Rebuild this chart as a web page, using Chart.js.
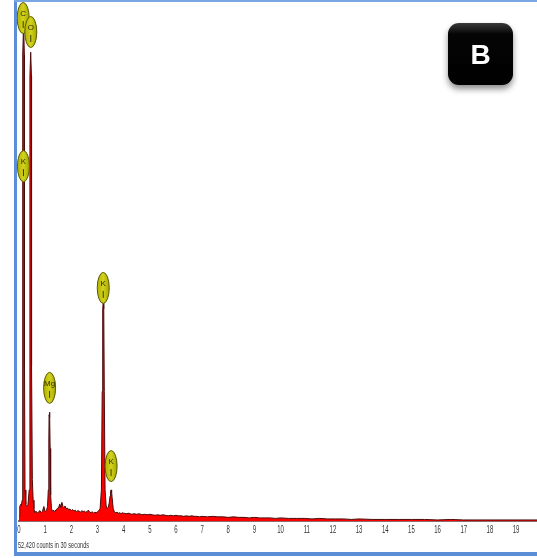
<!DOCTYPE html>
<html lang="en">
<head>
  <meta charset="UTF-8">
  <title>EDS spectrum B</title>
  <script src="https://cdn.jsdelivr.net/npm/chart.js"></script>
  <style>
    html, body { margin: 0; padding: 0; background: #fff; }
    #wrap { width: 537px; height: 558px; position: relative; }
  </style>
</head>
<body>
  <div id="wrap"><canvas id="eds" width="537" height="558"></canvas></div>

  <script>
    // spectrum (keV, counts on a 0-1000 relative scale)
    const energy = [
      0.00, 0.03, 0.06, 0.09, 0.12, 0.14, 0.145, 0.175, 0.205, 0.21, 0.23, 0.26, 0.30, 0.34,
      0.39, 0.415, 0.42, 0.447, 0.475, 0.48, 0.51, 0.54, 0.57, 0.60, 0.65, 0.70, 0.75,
      0.80, 0.85, 0.90, 0.95, 1.00, 1.05, 1.09, 1.12, 1.14, 1.15, 1.165, 1.18, 1.19, 1.21,
      1.24, 1.28, 1.32, 1.37, 1.42, 1.47, 1.52, 1.56, 1.60, 1.64, 1.68, 1.72, 1.76, 1.80,
      1.85, 1.90, 1.95, 2.00, 2.05, 2.10, 2.15, 2.20, 2.25, 2.30, 2.35, 2.40, 2.45, 2.50,
      2.55, 2.60, 2.65, 2.70, 2.75, 2.80, 2.85, 2.90, 2.95, 3.00, 3.05, 3.10, 3.15, 3.18,
      3.20, 3.22, 3.24, 3.26, 3.29, 3.33, 3.37, 3.41, 3.45, 3.48, 3.50, 3.52, 3.54, 3.56,
      3.60, 3.65, 3.70, 3.75, 3.80, 3.85, 3.90, 3.95, 4.00, 4.10, 4.20, 4.30, 4.40, 4.50,
      4.60, 4.70, 4.80, 4.90, 5.00, 5.10, 5.20, 5.30, 5.40, 5.50, 5.60, 5.70, 5.80, 5.90,
      6.00, 6.10, 6.20, 6.30, 6.40, 6.50, 6.60, 6.70, 6.80, 6.90, 7.00, 7.20, 7.40, 7.60,
      7.80, 8.00, 8.20, 8.40, 8.60, 8.80, 9.00, 9.20, 9.40, 9.60, 9.80, 10.0, 10.3, 10.6,
      10.9, 11.2, 11.5, 11.8, 12.1, 12.4, 12.7, 13.0, 13.5, 14.0, 14.5, 15.0, 15.5, 16.0,
      16.5, 17.0, 17.5, 18.0, 18.5, 19.0, 19.5, 19.8
    ];
    const counts = [
      10, 28, 32, 30, 40, 300, 900, 960, 900, 300, 60, 32, 28, 30,
      60, 300, 860, 905, 860, 300, 80, 40, 24, 16, 19, 15, 18,
      20, 16, 19, 28, 18, 20, 28, 60, 150, 205, 210, 200, 140, 50,
      24, 19, 21, 18, 22, 24, 27, 33, 26, 36, 28, 26, 29, 24,
      25, 22, 23, 20, 22, 19, 21, 18, 20, 19, 17, 20, 18, 19,
      17, 18, 21, 17, 16, 18, 15, 17, 16, 18, 20, 24, 60, 250,
      410, 421, 410, 250, 60, 30, 24, 26, 35, 48, 56, 60, 56, 45,
      24, 17, 16, 17, 15, 16, 14, 16, 15, 14, 15, 13, 14, 13,
      14, 12, 13, 12, 13, 12, 11, 12, 11, 12, 11, 10, 11, 10,
      11, 10, 10, 9, 10, 9, 10, 9, 9, 8, 9, 8, 9, 8,
      8, 7, 8, 7, 7, 6, 7, 6, 6, 6, 5, 6, 5, 5,
      5, 4, 5, 4, 4, 4, 3, 4, 3, 3, 3, 3, 3, 2,
      3, 2, 2, 2, 2, 2, 2, 2
    ];

    // element markers: text, energy (keV), centre height (same count scale)
    const markerText = ['C', 'O', 'K', 'K', 'Mg', 'K'];
    const markerEnergy = [0.16, 0.45, 0.17, 3.22, 1.17, 3.52];
    const markerCount = [971, 944, 685, 450, 257, 106];

    const xTicks = [0, 1, 2, 3, 4, 5, 6, 7, 8, 9, 10, 11, 12, 13, 14, 15, 16, 17, 18, 19];
    const countsNote = '52,420 counts in 30 seconds';

    const decor = {
      id: 'decor',
      beforeDraw(chart) {
        const ctx = chart.ctx;
        ctx.save();
        ctx.fillStyle = '#fff';
        ctx.fillRect(0, 0, chart.width, chart.height);
        ctx.restore();
      },
      afterDatasetsDraw(chart) {
        const ctx = chart.ctx;
        const xs = chart.scales.x, ys = chart.scales.y;

        // markers
        markerText.forEach((t, i) => {
          const cx = xs.getPixelForValue(markerEnergy[i]);
          const cy = ys.getPixelForValue(markerCount[i]);
          ctx.save();
          const g = ctx.createLinearGradient(cx - 6, 0, cx + 6, 0);
          g.addColorStop(0, '#b4b400');
          g.addColorStop(0.5, '#d2d21e');
          g.addColorStop(1, '#a8a800');
          ctx.fillStyle = g;
          ctx.strokeStyle = '#5c5c00';
          ctx.lineWidth = 1;
          ctx.beginPath();
          ctx.ellipse(cx, cy, 6, 15.5, 0, 0, Math.PI * 2);
          ctx.fill();
          ctx.stroke();
          ctx.fillStyle = '#2a2a00';
          ctx.font = '8px "Liberation Sans Narrow", "Liberation Sans", sans-serif';
          ctx.textAlign = 'center';
          ctx.textBaseline = 'middle';
          ctx.fillText(t, cx, cy - 4);
          ctx.strokeStyle = '#3a3a00';
          ctx.beginPath();
          ctx.moveTo(cx, cy + 3);
          ctx.lineTo(cx, cy + 10);
          ctx.stroke();
          ctx.restore();
        });
      },
      afterDraw(chart) {
        const ctx = chart.ctx;
        const xs = chart.scales.x;
        const base = chart.chartArea.bottom;

        // condensed tick labels
        ctx.save();
        ctx.fillStyle = '#333';
        ctx.font = '10px "Liberation Sans Narrow", "Liberation Sans", sans-serif';
        ctx.textAlign = 'center';
        ctx.textBaseline = 'top';
        xTicks.forEach(v => {
          const px = xs.getPixelForValue(v);
          ctx.save();
          ctx.translate(px, base + 4);
          ctx.scale(0.6, 1);
          ctx.fillText(String(v), 0, 0);
          ctx.restore();
        });
        ctx.save();
        ctx.translate(18, base + 20);
        ctx.scale(0.62, 1);
        ctx.textAlign = 'left';
        ctx.font = '9px "Liberation Sans Narrow", "Liberation Sans", sans-serif';
        ctx.fillText(countsNote, 0, 0);
        ctx.restore();
        ctx.restore();

        // badge "B"
        ctx.save();
        ctx.shadowColor = 'rgba(0,0,0,0.45)';
        ctx.shadowBlur = 6;
        ctx.shadowOffsetY = 4;
        const bg = ctx.createLinearGradient(0, 23, 0, 85);
        bg.addColorStop(0, '#3a3a3a');
        bg.addColorStop(0.18, '#050505');
        bg.addColorStop(1, '#000');
        ctx.fillStyle = bg;
        ctx.beginPath();
        ctx.roundRect(448, 23, 65, 62, 11);
        ctx.fill();
        ctx.restore();
        ctx.save();
        ctx.fillStyle = '#fff';
        ctx.font = 'bold 28px "Liberation Sans", Arial, sans-serif';
        ctx.textAlign = 'center';
        ctx.textBaseline = 'middle';
        ctx.fillText('B', 480.5, 56);
        ctx.restore();

        // blue frame
        ctx.save();
        ctx.fillStyle = '#5b8ed7';
        ctx.fillRect(14, 0, 3, 556);
        ctx.fillRect(14, 552, 523, 4);
        ctx.fillStyle = '#7aa6e2';
        ctx.fillRect(14, 0, 523, 2);
        ctx.restore();
      }
    };

    new Chart(document.getElementById('eds').getContext('2d'), {
      type: 'line',
      data: {
        datasets: [{
          data: energy.map((e, i) => ({ x: e, y: counts[i] })),
          borderColor: '#4a0c0c',
          borderWidth: 1,
          backgroundColor: '#ff0000',
          fill: 'origin',
          pointRadius: 0,
          tension: 0
        }]
      },
      options: {
        responsive: false,
        animation: false,
        layout: { padding: { left: 19, top: 3, right: 0, bottom: 0 } },
        plugins: { legend: { display: false }, tooltip: { enabled: false } },
        scales: {
          x: {
            type: 'linear',
            min: 0,
            max: 19.8,
            grid: { display: false },
            border: { display: true, color: '#8b6d6d', width: 2 },
            ticks: { display: false },
            afterFit: s => { s.height = 37; }
          },
          y: {
            display: false,
            min: 0,
            max: 1000
          }
        }
      },
      plugins: [decor]
    });
  </script>
</body>
</html>
